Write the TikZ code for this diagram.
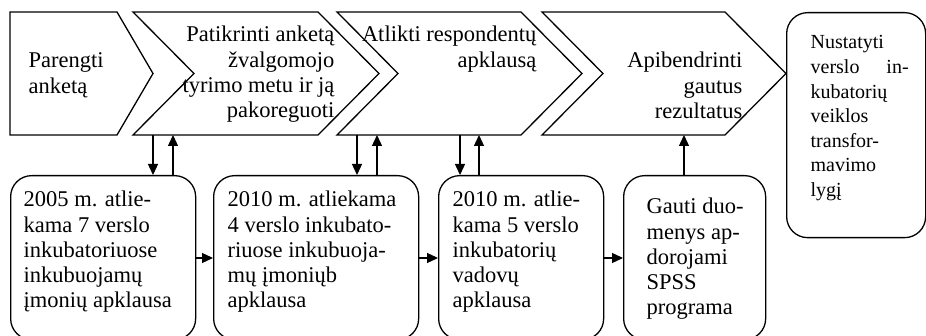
\documentclass[tikz,border=0pt]{standalone}
\usepackage{fontspec}
\setmainfont{Liberation Serif}
\usetikzlibrary{arrows.meta}
\newcommand{\LLines}[2]{\vtop{\hsize=#1\relax\parindent=0pt\raggedright\leavevmode #2\par}}
\newcommand{\RLines}[2]{\vtop{\hsize=#1\relax\parindent=0pt\raggedleft\leavevmode #2\par}}
\begin{document}
\begin{tikzpicture}[x=1pt,y=-1pt,line width=1.3pt,
  chev/.style={draw,line join=miter},
  rbox/.style={draw,rounded corners=21pt,anchor=north west,inner sep=0pt},
  txt/.style={inner sep=0pt,font=\fontsize{22.5}{25.2}\selectfont},
  txts/.style={inner sep=0pt,font=\fontsize{20}{24.6}\selectfont},
  arr/.style={-{Triangle[length=11pt,width=10pt]}}]
\useasboundingbox (0,0) rectangle (926,336);
% chevrons
\draw[chev] (10,12) -- (117,12) -- (153,73.5) -- (117,135) -- (10,135) -- cycle;
\draw[chev] (133,12) -- (318,12) -- (379,73.5) -- (318,135) -- (133,135) -- (194,73.5) -- cycle;
\draw[chev] (337,12) -- (521,12) -- (582,73.5) -- (521,135) -- (337,135) -- (398,73.5) -- cycle;
\draw[chev] (542,12) -- (725,12) -- (786,73.5) -- (725,135) -- (542,135) -- (603,73.5) -- cycle;
% final box
\node[rbox,minimum width=139pt,minimum height=225pt] (fin) at (786,12) {};
% bottom boxes
\node[rbox,minimum width=185pt,minimum height=164pt] (b1) at (10,175) {};
\node[rbox,minimum width=205pt,minimum height=164pt] (b2) at (213,175) {};
\node[rbox,minimum width=165pt,minimum height=164pt] (b3) at (438,175) {};
\node[rbox,minimum width=142pt,minimum height=164pt] (b4) at (623,175) {};
% texts
\node[txt,anchor=base west] (t1) at (28,68) {\LLines{120pt}{Parengti\\anketą}};
\node[txt,anchor=base east] (t2) at (335,42) {\RLines{200pt}{Patikrinti anketą\\žvalgomojo\\tyrimo metu ir ją\\pakoreguoti}};
\node[txt,anchor=base east] (t3) at (537,42) {\RLines{200pt}{Atlikti respondentų\\apklausą}};
\node[txt,anchor=base east] (t4) at (743,68) {\RLines{160pt}{Apibendrinti\\gautus\\rezultatus}};
\node[txts,anchor=base west] (t5) at (810,49) {\LLines{98pt}{Nustatyti\\verslo\hfill in-\\kubatorių\\veiklos\\transfor-\\mavimo\\lygį}};
\node[txt,anchor=base west] (t6) at (23,207) {\LLines{170pt}{2005 m. atlie-\\kama 7 verslo\\inkubatoriuose\\inkubuojamų\\įmonių apklausa}};
\node[txt,anchor=base west] (t7) at (227,207) {\LLines{185pt}{2010 m. atliekama\\4 verslo inkubato-\\riuose inkubuoja-\\mų įmoniųb\\apklausa}};
\node[txt,anchor=base west] (t8) at (452,207) {\LLines{150pt}{2010 m. atlie-\\kama 5 verslo\\inkubatorių\\vadovų\\apklausa}};
\node[txt,anchor=base west] (t9) at (646,214) {\LLines{110pt}{Gauti duo-\\menys ap-\\dorojami\\SPSS\\programa}};
% arrow anchor points on chevrons
\coordinate (c2a) at (153,135);
\coordinate (c2b) at (173,135);
\coordinate (c3a) at (357,135);
\coordinate (c3b) at (377,135);
\coordinate (c3c) at (460,135);
\coordinate (c3d) at (479,135);
\coordinate (c4a) at (684,135);
\coordinate (hy) at (0,258);
\draw[arr] (c2a) -- (c2a |- b1.north);
\draw[arr] (c2b |- b1.north) -- (c2b);
\draw[arr] (c3a) -- (c3a |- b2.north);
\draw[arr] (c3b |- b2.north) -- (c3b);
\draw[arr] (c3c) -- (c3c |- b3.north);
\draw[arr] (c3d |- b3.north) -- (c3d);
\draw[arr] (c4a |- b4.north) -- (c4a);
\draw[arr] (b1.east |- hy) -- (b2.west |- hy);
\draw[arr] (b2.east |- hy) -- (b3.west |- hy);
\draw[arr] (b3.east |- hy) -- (b4.west |- hy);
\end{tikzpicture}
\end{document}
